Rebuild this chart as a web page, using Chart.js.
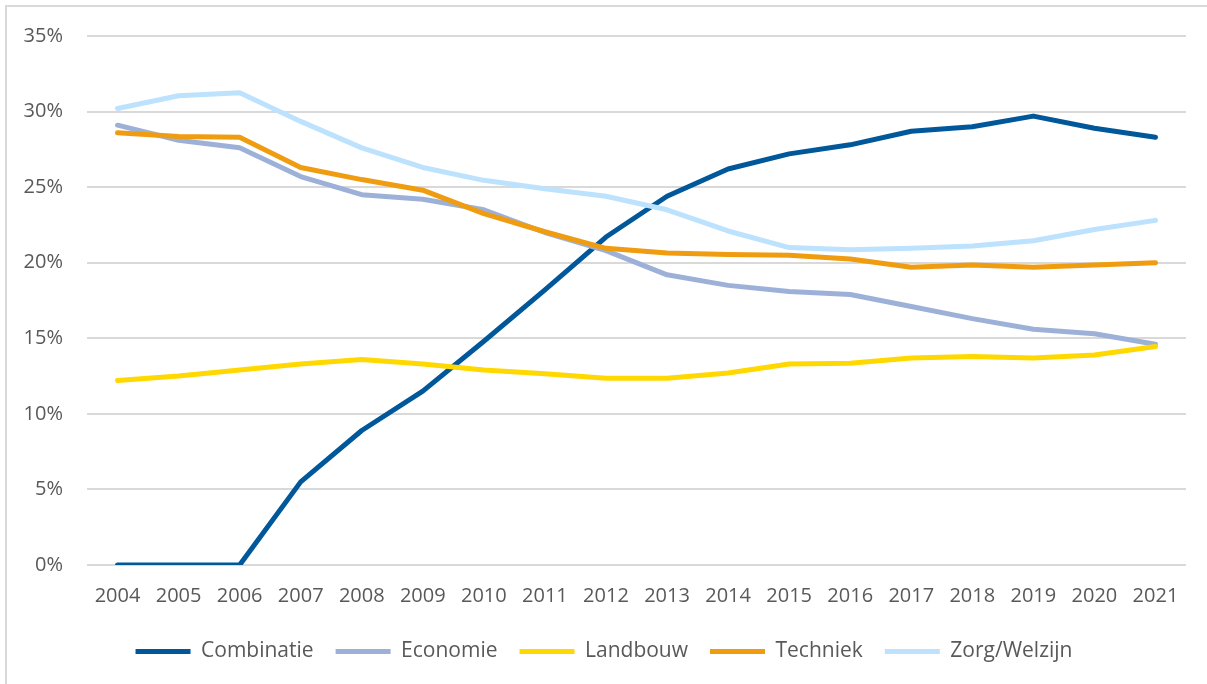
<!DOCTYPE html>
<html>
<head>
<meta charset="utf-8">
<script src="https://cdn.jsdelivr.net/npm/chart.js@4"></script>
<style>
  html, body { margin: 0; padding: 0; background: #fff; }
  #wrap { position: relative; width: 1207px; height: 684px; overflow: hidden; }
  #frame { position: absolute; left: 5px; top: 5px; width: 1300px; height: 800px;
           border-top: 2px solid #D9D9D9; border-left: 2px solid #D9D9D9; }
  canvas { position: absolute; left: 0; top: 0; }
</style>
</head>
<body>
<div id="wrap">
  <div id="frame"></div>
  <canvas id="chart" width="1207" height="684"></canvas>
</div>
<script>
// Years on the x axis
const years = ['2004','2005','2006','2007','2008','2009','2010','2011','2012',
  '2013','2014','2015','2016','2017','2018','2019','2020','2021'];

// Share per sector (%)
const combinatie = [0, 0, 0, 5.5, 8.9, 11.5, 14.8, 18.2, 21.7, 24.4, 26.2, 27.2, 27.8, 28.7, 29.0, 29.7, 28.9, 28.3];
const economie   = [29.1, 28.1, 27.6, 25.7, 24.5, 24.2, 23.5, 22.0, 20.8, 19.2, 18.5, 18.1, 17.9, 17.1, 16.3, 15.6, 15.3, 14.6];
const landbouw   = [12.2, 12.5, 12.9, 13.3, 13.6, 13.3, 12.9, 12.65, 12.35, 12.35, 12.7, 13.3, 13.35, 13.7, 13.8, 13.7, 13.9, 14.45];
const techniek   = [28.6, 28.35, 28.3, 26.3, 25.5, 24.8, 23.25, 22.05, 20.95, 20.65, 20.55, 20.5, 20.25, 19.7, 19.85, 19.7, 19.85, 20.0];
const zorg       = [30.2, 31.05, 31.25, 29.35, 27.6, 26.3, 25.45, 24.9, 24.4, 23.5, 22.1, 21.0, 20.85, 20.95, 21.1, 21.45, 22.2, 22.8];

const seriesNames = ['Combinatie', 'Economie', 'Landbouw', 'Techniek', 'Zorg/Welzijn'];
const seriesColors = ['#00589B', '#9DB1D8', '#FFD800', '#EF9C10', '#BCE2FE'];
const seriesData = [combinatie, economie, landbouw, techniek, zorg];

const FONT = '"Open Sans", "Noto Sans", sans-serif';
const TEXT = '#595959';

const datasets = seriesNames.map((name, i) => ({
  label: name,
  data: seriesData[i],
  borderColor: seriesColors[i],
  backgroundColor: seriesColors[i],
  borderWidth: 5,
  borderCapStyle: 'round',
  borderJoinStyle: 'round',
  pointRadius: 0,
  tension: 0,
  // later series drawn on top, like the original
  order: seriesNames.length - i
}));

new Chart(document.getElementById('chart').getContext('2d'), {
  type: 'line',
  data: { labels: years, datasets: datasets },
  options: {
    responsive: false,
    animation: false,
    layout: { padding: { left: 22, right: 21, top: 23, bottom: 12 } },
    plugins: {
      tooltip: { enabled: false },
      legend: {
        position: 'bottom',
        labels: {
          sort: (a, b) => a.datasetIndex - b.datasetIndex,
          boxWidth: 55,
          boxHeight: 5,
          useBorderRadius: true,
          borderRadius: 2.5,
          padding: 22,
          color: TEXT,
          font: { family: FONT, size: 21 },
          generateLabels: (chart) => chart.data.datasets.map((ds, i) => ({
            text: ds.label,
            fillStyle: ds.borderColor,
            strokeStyle: ds.borderColor,
            lineWidth: 0,
            fontColor: TEXT,
            datasetIndex: i
          }))
        }
      }
    },
    scales: {
      x: {
        offset: true,
        grid: { display: false },
        border: { display: false },
        ticks: { color: TEXT, font: { family: FONT, size: 20 }, padding: 11, maxRotation: 0 }
      },
      y: {
        min: 0,
        max: 35,
        // keep the plot's left edge where the original has it
        afterFit: (scale) => { scale.width = 65; },
        grid: { color: '#D9D9D9', lineWidth: 2, drawTicks: false },
        border: { display: false },
        ticks: {
          stepSize: 5,
          color: TEXT,
          font: { family: FONT, size: 20 },
          padding: 24,
          callback: (v) => v + '%'
        }
      }
    }
  }
});
</script>
</body>
</html>
